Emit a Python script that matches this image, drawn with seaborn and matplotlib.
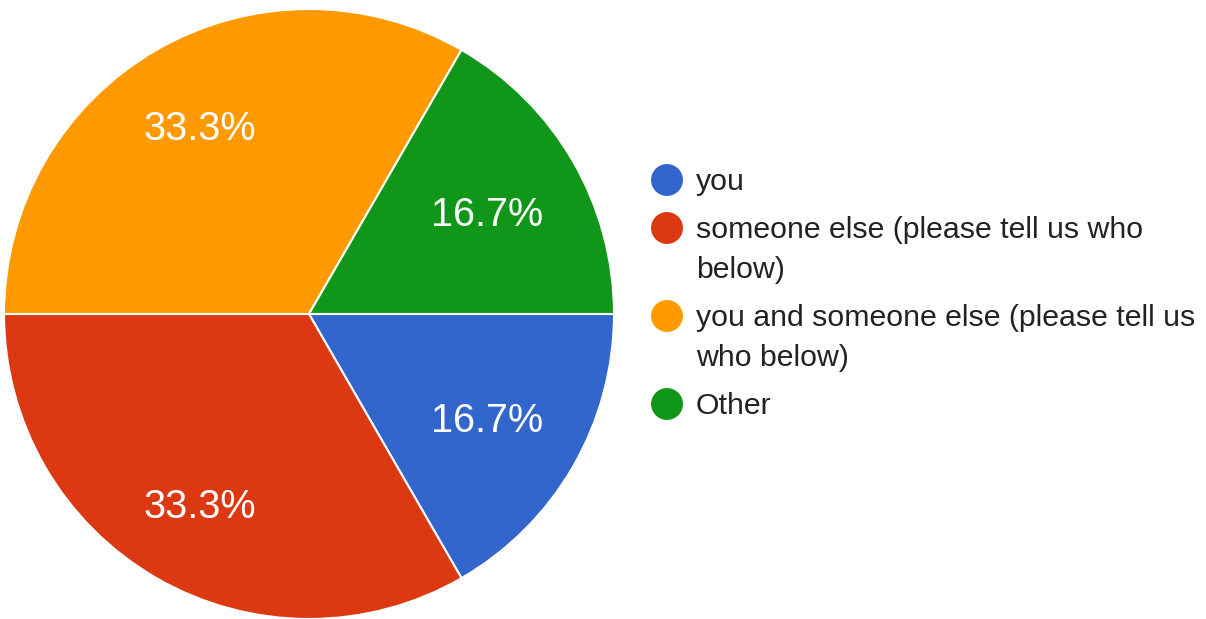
import numpy as np
import matplotlib
matplotlib.use("Agg")
import matplotlib.pyplot as plt
import seaborn as sns

categories = ["you", "someone else (please tell us who below)",
              "you and someone else (please tell us who below)", "Other"]
legend_lines = [["you"], ["someone else (please tell us who", "below)"],
                ["you and someone else (please tell us", "who below)"], ["Other"]]
values = [1, 2, 2, 1]
colors = ["#3366CC", "#DC3912", "#FF9900", "#109618"]

sns.set_theme(style="white")
plt.rcParams["font.family"] = ["Liberation Sans", "DejaVu Sans"]

W, H = 1206, 619
fig = plt.figure(figsize=(W / 100, H / 100), dpi=100)
fig.patch.set_facecolor("white")

# pie axes
cx, cy, r = 309, 314, 305
ax = fig.add_axes([(cx - r) / W, (H - cy - r) / H, 2 * r / W, 2 * r / H])
palette = sns.color_palette(colors)
wedges, texts, autotexts = ax.pie(
    values, colors=palette, startangle=0, counterclock=False,
    autopct="%1.1f%%", pctdistance=0.7,
    wedgeprops=dict(edgecolor="white", linewidth=1.5),
    textprops=dict(color="white", fontsize=28.5))
total = sum(values)
for w, t, v in zip(wedges, autotexts, values):
    w.set_clip_on(False)
    theta = np.deg2rad((w.theta1 + w.theta2) / 2)
    d = 0.675 if v / total < 0.25 else 0.715
    t.set_position((d * np.cos(theta), d * np.sin(theta) - 0.012))
ax.set_xlim(-1, 1)
ax.set_ylim(-1, 1)
ax.set_aspect("equal")
ax.axis("off")

# legend (pixel coordinates)
lax = fig.add_axes([0, 0, 1, 1])
lax.set_xlim(0, W)
lax.set_ylim(H, 0)
lax.axis("off")
y = 180
for lines, col in zip(legend_lines, palette):
    lax.scatter([667], [y], s=23 ** 2, color=col, edgecolors="none", zorder=3)
    for j, line in enumerate(lines):
        lax.text(696, y + 10 + 40 * j, line, fontsize=21.8, color="#222222",
                 va="baseline", ha="left")
    y += 40 * (len(lines) - 1) + 48

fig.savefig("out.png", dpi=100)
